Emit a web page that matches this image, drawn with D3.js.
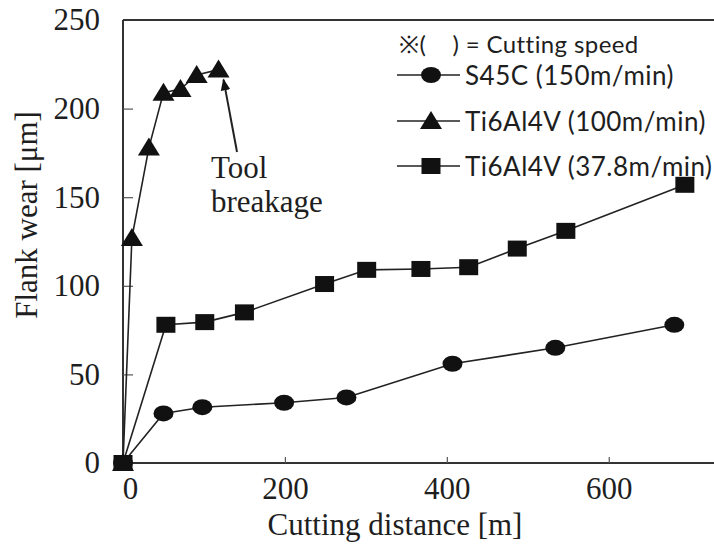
<!DOCTYPE html>
<html>
<head>
<meta charset="utf-8">
<script src="https://cdn.jsdelivr.net/npm/d3@7"></script>
<style>
  html, body { margin: 0; padding: 0; background: #fff; }
  svg { display: block; }
</style>
</head>
<body>
<svg id="chart" width="714" height="548"></svg>
<script>
// ---- data ----
const distS45C   = [0, 50, 98, 199, 276, 407, 534, 681];
const wearS45C   = [0, 28, 31.5, 34, 37, 56, 65, 78];
const distTiFast = [0, 11, 32, 50, 71, 91, 118];
const wearTiFast = [0, 127, 178, 209, 211, 219, 222];
const distTiSlow = [0, 53, 101, 150, 249, 301, 368, 427, 487, 547, 694];
const wearTiSlow = [0, 78, 79.5, 85, 101, 109, 109.5, 110.5, 121, 131, 157];
const seriesNames = ["S45C (150m/min)", "Ti6Al4V (100m/min)", "Ti6Al4V (37.8m/min)"];
const seriesShapes = ["circle", "triangle", "square"];
const xTicks = [0, 200, 400, 600];
const yTicks = [0, 50, 100, 150, 200, 250];
const legendTitle = "※(    ) = Cutting speed";
const xTitle = "Cutting distance [m]";
const yTitle = "Flank wear [μm]";
const noteLines = ["Tool", "breakage"];
const notePoint = [118, 222];

// ---- layout ----
const svg = d3.select("#chart");
const serif = "'Liberation Serif', 'Times New Roman', serif";
const sans = "Lato, 'Open Sans', sans-serif";
const ink = "#1e1e1e";
const pLeft = 123, pRight = 714, pTop = 20, pBottom = 463;

const x = d3.scaleLinear().domain([0, 730]).range([pLeft, pRight]);
const y = d3.scaleLinear().domain([0, 250]).range([pBottom, pTop]);

const series = [
  distS45C.map((d, i) => [d, wearS45C[i]]),
  distTiFast.map((d, i) => [d, wearTiFast[i]]),
  distTiSlow.map((d, i) => [d, wearTiSlow[i]])
];

// frame line
svg.append("line").attr("x1", pLeft).attr("x2", pRight).attr("y1", pTop).attr("y2", pTop)
  .attr("stroke", "#333").attr("stroke-width", 2);

// axes
const yAxis = d3.axisLeft(y).tickValues(yTicks).tickSizeInner(-10).tickSizeOuter(0).tickPadding(23);
const gy = svg.append("g").attr("transform", `translate(${pLeft},0)`).call(yAxis);
const xAxis = d3.axisBottom(x).tickValues(xTicks).tickSizeInner(-6).tickSizeOuter(0).tickPadding(14);
const gx = svg.append("g").attr("transform", `translate(0,${pBottom})`).call(xAxis);

[gx, gy].forEach(g => {
  g.select(".domain").attr("stroke", "#333").attr("stroke-width", 2);
  g.selectAll(".tick line").attr("stroke", "#555").attr("stroke-width", 1.2);
  g.selectAll(".tick text").attr("fill", ink).style("font-family", serif).style("font-size", "31px");
});
gx.select(".domain").attr("d", `M${pLeft},0H${pRight}`);
gy.select(".domain").attr("d", `M0,${pBottom}V${pTop}`);
gy.selectAll(".tick").filter(d => d === 0 || d === 250).select("line").remove();
gx.selectAll(".tick").filter(d => d === 0).select("line").remove();
gx.selectAll(".tick").filter(d => d === 0).select("text").attr("dx", 7);

// axis titles
svg.append("text").attr("x", 395).attr("y", 535).attr("text-anchor", "middle")
  .style("font-family", serif).style("font-size", "31px").attr("fill", ink).text(xTitle);
svg.append("text").attr("transform", "translate(37,215) rotate(-90)").attr("text-anchor", "middle")
  .style("font-family", serif).style("font-size", "31px").attr("fill", ink).text(yTitle);

// marker drawing
function marker(g, shape) {
  if (shape === "circle") {
    g.append("ellipse").attr("rx", 10).attr("ry", 8).attr("fill", "#111");
  } else if (shape === "triangle") {
    g.append("path").attr("d", "M0,-10L11,8L-11,8Z").attr("fill", "#111");
  } else {
    g.append("rect").attr("x", -9.5).attr("y", -8).attr("width", 19).attr("height", 16).attr("fill", "#111");
  }
}

const line = d3.line().x(d => x(d[0])).y(d => y(d[1]));
series.forEach((s, i) => {
  svg.append("path").datum(s).attr("d", line).attr("fill", "none")
    .attr("stroke", "#222").attr("stroke-width", 1.6);
});
series.forEach((s, i) => {
  svg.append("g").selectAll("g").data(s).join("g")
    .attr("transform", d => `translate(${x(d[0])},${y(d[1])})`)
    .each(function () { marker(d3.select(this), seriesShapes[i]); });
});

// annotation
svg.append("defs").append("marker").attr("id", "arrow").attr("viewBox", "0 0 10 10")
  .attr("refX", 9).attr("refY", 5).attr("markerWidth", 6).attr("markerHeight", 8)
  .attr("orient", "auto").append("path").attr("d", "M0,1L10,5L0,9Z").attr("fill", "#111");
svg.append("line").attr("x1", 237).attr("y1", 152)
  .attr("x2", x(notePoint[0]) + 5).attr("y2", y(notePoint[1]) + 10)
  .attr("stroke", "#222").attr("stroke-width", 2).attr("marker-end", "url(#arrow)");
noteLines.forEach((t, i) => {
  svg.append("text").attr("x", 211).attr("y", 178 + i * 34)
    .style("font-family", serif).style("font-size", "31px").attr("fill", ink).text(t);
});

// legend
svg.append("text").attr("x", 399).attr("y", 53).style("white-space", "pre")
  .style("font-family", sans).style("font-size", "24px").style("letter-spacing", "0.4px")
  .attr("fill", ink).text(legendTitle);
const legRows = [75, 121, 166];
seriesNames.forEach((name, i) => {
  const g = svg.append("g").attr("transform", `translate(0,${legRows[i]})`);
  g.append("line").attr("x1", 397).attr("x2", 460).attr("y1", 0).attr("y2", 0)
    .attr("stroke", "#222").attr("stroke-width", 1.6);
  const m = g.append("g").attr("transform", "translate(431,0)");
  marker(m, seriesShapes[i]);
  g.append("text").attr("x", 465).attr("y", 10)
    .style("font-family", sans).style("font-size", "26px").style("letter-spacing", "0.5px")
    .attr("fill", ink).text(name);
});
</script>
</body>
</html>
